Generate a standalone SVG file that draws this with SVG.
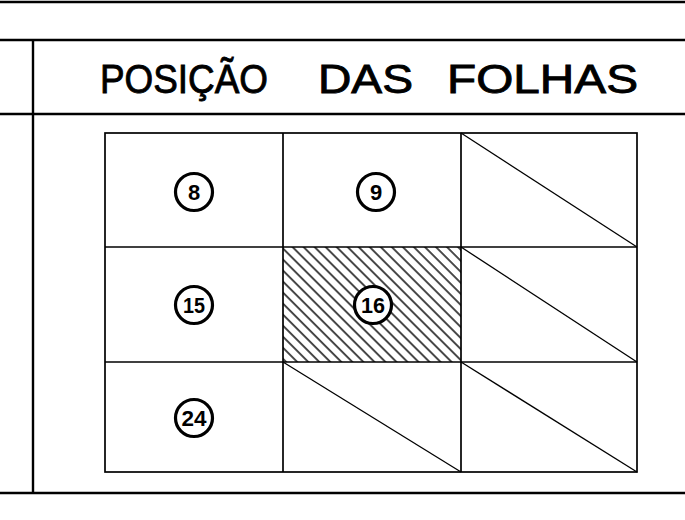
<svg xmlns="http://www.w3.org/2000/svg" width="685" height="520" viewBox="0 0 685 520">
<style>
.rule{stroke:#000;stroke-width:2.4;fill:none}
.grid{stroke:#000;stroke-width:1.7;fill:none}
.diag{stroke:#000;stroke-width:1.3;fill:none}
.ring{fill:#fff;stroke:#000;stroke-width:3.2}
.num{font-family:"Liberation Sans",Arial,sans-serif;font-weight:700;font-size:22px;text-anchor:middle}
.title{font-family:"Liberation Sans",Arial,sans-serif;font-size:41px;fill:#000;stroke:#000;stroke-width:0.9}
</style>
<defs>
<pattern id="hatch" patternUnits="userSpaceOnUse" width="7.8" height="20" patternTransform="rotate(-45)">
<line x1="1" y1="0" x2="1" y2="20" stroke="#000" stroke-width="1.4"/>
</pattern>
</defs>
<rect width="685" height="520" fill="#fff"/>
<g id="frame">
<line class="rule" x1="0" y1="2" x2="685" y2="2"/>
<line class="rule" x1="0" y1="40" x2="685" y2="40"/>
<line class="rule" x1="0" y1="114" x2="685" y2="114"/>
<line class="rule" x1="0" y1="493" x2="685" y2="493"/>
<line class="rule" x1="33" y1="40" x2="33" y2="493"/>
</g>
<g id="title">
<text class="title" x="100" y="93" textLength="168" lengthAdjust="spacingAndGlyphs">POSIÇÃO</text>
<text class="title" x="318" y="93" textLength="95" lengthAdjust="spacingAndGlyphs">DAS</text>
<text class="title" x="447" y="93" textLength="191" lengthAdjust="spacingAndGlyphs">FOLHAS</text>
</g>
<g id="cell-16-hatch">
<rect x="283" y="247" width="178" height="115" fill="url(#hatch)"/>
</g>
<g id="grid">
<rect class="grid" x="105" y="133" width="532" height="339" stroke-width="2"/>
<line class="grid" x1="283" y1="133" x2="283" y2="472"/>
<line class="grid" x1="461" y1="133" x2="461" y2="472"/>
<line class="grid" x1="105" y1="247" x2="637" y2="247"/>
<line class="grid" x1="105" y1="362" x2="637" y2="362"/>
</g>
<g id="connectors">
<line class="diag" x1="461" y1="133" x2="637" y2="247"/>
<line class="diag" x1="461" y1="247" x2="637" y2="362"/>
<line class="diag" x1="283" y1="362" x2="461" y2="472"/>
<line class="diag" x1="461" y1="362" x2="637" y2="472"/>
</g>
<g id="sheet-8">
<circle class="ring" cx="194" cy="192" r="18.5"/>
<text class="num" x="194" y="200">8</text>
</g>
<g id="sheet-9">
<circle class="ring" cx="376" cy="192" r="18.5"/>
<text class="num" x="376" y="200">9</text>
</g>
<g id="sheet-15">
<circle class="ring" cx="194" cy="305" r="18.5"/>
<text class="num" x="194" y="313" textLength="22" lengthAdjust="spacingAndGlyphs">15</text>
</g>
<g id="sheet-16">
<circle class="ring" cx="373" cy="305" r="18.5"/>
<text class="num" x="373" y="313" textLength="24" lengthAdjust="spacingAndGlyphs">16</text>
</g>
<g id="sheet-24">
<circle class="ring" cx="194" cy="418" r="18.5"/>
<text class="num" x="194" y="426" textLength="25" lengthAdjust="spacingAndGlyphs">24</text>
</g>
</svg>
